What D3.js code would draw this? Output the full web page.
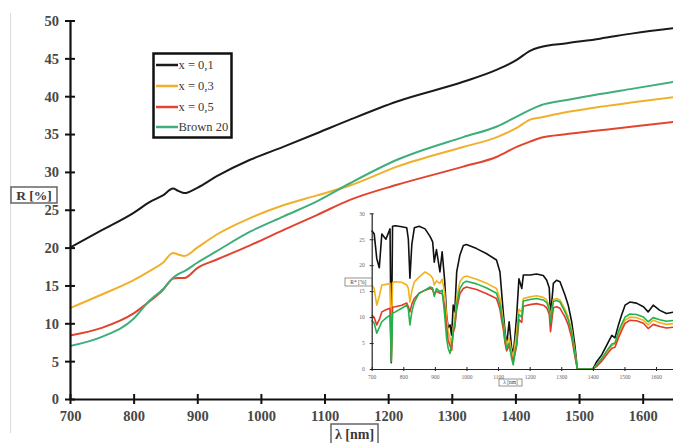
<!DOCTYPE html>
<html>
<head>
<meta charset="utf-8">
<script src="https://cdn.jsdelivr.net/npm/d3@7"></script>
<style>
  body { margin: 0; background: #fff; }
  text { font-family: "Liberation Serif", "DejaVu Serif", serif; }
</style>
</head>
<body>
<div id="chart"></div>
<script>
// main chart: wavelengths (nm) and reflectance R [%] per sample
var mainNm = [700,750,800,825,846,862,870,880,900,930,983,1035,1088,1140,1214,1318,1371,1402,1423,1440,1481,1533,1585,1650];
var mainX01 = [20.0,22.3,24.6,26.0,26.9,27.8,27.5,27.2,27.9,29.4,31.6,33.3,35.1,36.9,39.3,41.9,43.5,44.8,46.0,46.5,47.0,47.6,48.3,49.0];
var mainX03 = [12.0,13.8,15.7,16.9,18.0,19.3,19.1,18.9,20.0,21.7,23.9,25.6,26.9,28.2,30.7,33.3,34.6,35.8,36.9,37.2,37.9,38.6,39.2,39.9];
var mainX05 = [8.4,9.4,11.3,12.9,14.4,15.9,16.0,16.0,17.3,18.4,20.3,22.3,24.3,26.3,28.3,30.7,32.0,33.3,34.0,34.5,35.0,35.5,36.0,36.6];
var mainBrown = [7.0,8.2,10.6,13.0,14.5,16.0,16.5,16.9,18.0,19.5,22.1,24.1,26.1,28.5,31.6,34.6,36.0,37.3,38.2,38.8,39.5,40.3,41.0,41.9];

// inset chart: R* [%]
var insetNm = [700,708,716,724,732,745,758,762,766,775,795,811,816,821,827,835,850,869,885,893,898,905,916,923,931,937,942,948,953,958,963,969,979,990,1000,1032,1064,1095,1106,1111,1117,1122,1127,1135,1143,1148,1153,1159,1166,1175,1180,1201,1222,1243,1254,1262,1266,1275,1285,1296,1312,1322,1333,1343,1351,1400,1412,1428,1444,1460,1470,1481,1491,1502,1517,1538,1560,1575,1591,1612,1633,1660];
var insetX01 = [26.7,26.0,21.3,19.5,26.0,25.0,27.0,1.2,27.5,27.6,27.4,27.2,25.0,17.5,24.0,27.2,27.5,27.0,25.5,24.5,20.6,23.0,18.7,22.6,17.0,10.4,8.0,8.5,6.5,12.3,11.0,18.7,21.9,23.8,24.0,23.2,22.2,21.0,18.7,14.9,10.5,7.2,4.6,9.1,4.0,3.0,5.9,10.4,17.4,15.5,18.1,18.1,18.3,18.0,17.1,15.6,10.0,16.5,17.1,16.8,14.2,12.3,9.1,4.6,0,0,1.4,2.7,4.6,6.5,6.0,8.5,10.4,12.3,12.9,12.7,12.0,11.0,12.3,11.3,10.7,11.0];
var insetX03 = [16.2,15.5,12.3,14.0,16.2,16.3,16.5,4.0,16.6,16.8,16.7,16.2,15.5,12.9,15.0,16.8,17.7,18.7,18.1,17.5,16.2,17.0,16.5,17.3,14.6,10.0,7.2,6.0,4.0,8.0,9.5,13.6,16.8,17.7,17.9,17.3,16.5,15.5,13.6,11.5,9.1,6.5,4.6,6.0,3.3,2.5,4.5,7.2,11.5,11.0,13.6,13.9,14.1,13.8,13.3,12.0,9.7,13.4,13.6,13.3,11.5,10.0,7.5,3.5,0,0,0.8,1.8,3.2,4.5,4.8,6.6,8.0,9.4,10.0,9.9,9.4,8.5,9.4,8.9,8.6,8.8];
var insetX05 = [10.4,9.9,8.5,9.5,11.0,11.4,11.7,2.0,11.9,12.0,12.3,12.7,12.0,11.0,12.5,13.6,14.6,15.2,15.5,15.3,14.3,15.0,14.6,14.6,12.0,8.1,5.5,4.5,3.6,7.0,8.0,11.5,14.5,15.5,15.8,15.3,14.5,13.6,11.5,9.5,7.5,5.0,3.5,4.5,2.5,1.5,2.8,4.5,9.5,9.0,12.1,12.4,12.6,12.3,11.8,10.5,7.2,11.8,12.0,11.7,10.0,8.5,6.0,2.5,0,0,0.5,1.5,2.8,4.0,4.2,6.0,7.4,8.8,9.4,9.3,8.8,7.8,8.6,8.2,7.9,8.1];
var insetBrown = [9.4,8.8,6.9,8.0,9.1,9.8,10.4,1.4,10.8,11.0,11.7,12.3,11.5,8.5,11.0,12.9,14.6,15.2,15.8,15.6,14.0,15.5,14.9,15.2,10.4,5.9,4.0,3.0,4.6,7.5,8.5,12.5,15.5,16.6,16.9,16.4,15.6,14.6,12.5,10.5,8.5,5.5,4.0,5.0,2.0,0.8,3.0,5.0,10.5,10.0,13.1,13.4,13.6,13.3,12.8,11.5,9.0,13.0,13.2,12.9,11.0,9.5,7.0,3.0,0,0,0.8,2.0,3.5,4.8,5.0,7.2,8.6,10.0,10.6,10.5,10.0,9.1,9.9,9.5,9.2,9.4];

var seriesNames = ["x = 0,1", "x = 0,3", "x = 0,5", "Brown 20"];
var mainColors = ["#1a1a1a", "#f1b02c", "#e2452f", "#3fae7c"];
var insetColors = ["#111111", "#f2b21e", "#e23b27", "#22b24c"];
var xTicks = [700,800,900,1000,1100,1200,1300,1400,1500,1600];
var yTicks = [0,5,10,15,20,25,30,35,40,45,50];
var insetYTicks = [0,5,10,15,20,25,30];

var width = 673, height = 443;

var svg = d3.select("#chart").append("svg")
    .attr("width", width)
    .attr("height", height);

// faint page edge on the left
svg.append("line")
    .attr("x1", 10.5).attr("x2", 10.5)
    .attr("y1", 13).attr("y2", 433)
    .attr("stroke", "#dcdcdc")
    .attr("stroke-width", 1);

// scales for main chart
var xScale = d3.scaleLinear()
    .domain([700, 1650])
    .range([70, 674.5]);

var yScale = d3.scaleLinear()
    .domain([0, 50])
    .range([399, 20.5]);

var line = d3.line()
    .x(function(d) { return xScale(d.x); })
    .y(function(d) { return yScale(d.y); })
    .curve(d3.curveMonotoneX);

var mainSeries = [mainX01, mainX03, mainX05, mainBrown];

mainSeries.forEach(function(vals, i) {
    var pts = mainNm.map(function(nm, j) { return {x: nm, y: vals[j]}; });
    svg.append("path")
        .datum(pts)
        .attr("d", line)
        .attr("fill", "none")
        .attr("stroke", mainColors[i])
        .attr("stroke-width", 2);
});

// inset background + chart
drawInset();

// main axes
var xAxis = d3.axisBottom(xScale)
    .tickValues(xTicks)
    .tickFormat(d3.format("d"))
    .tickSizeInner(5)
    .tickSizeOuter(0)
    .tickPadding(10);

var yAxis = d3.axisLeft(yScale)
    .tickValues(yTicks)
    .tickFormat(d3.format("d"))
    .tickSizeInner(5)
    .tickSizeOuter(0)
    .tickPadding(10);

var gx = svg.append("g")
    .attr("transform", "translate(0," + 399 + ")")
    .call(xAxis);

var gy = svg.append("g")
    .attr("transform", "translate(70,0)")
    .call(yAxis);

[gx, gy].forEach(function(g) {
    g.select(".domain").attr("stroke", "#111").attr("stroke-width", 2.2);
    g.selectAll(".tick line").attr("stroke", "#111").attr("stroke-width", 2);
    g.selectAll(".tick text")
        .attr("font-family", "Liberation Serif, serif")
        .attr("font-weight", "bold")
        .attr("font-size", 14.5)
        .attr("fill", "#484848");
});
// ticks cross the axis line
gx.selectAll(".tick line").attr("y1", -5).attr("y2", 5);
gy.selectAll(".tick line").attr("x1", -5).attr("x2", 5);
gy.selectAll(".tick text").attr("x", -11).attr("dy", "0.34em");
gx.selectAll(".tick text").attr("y", 12);

// axis label boxes
drawLabelBox(svg, 11, 187, 46, 16, "R [%]", 13.5, true);
drawLabelBox(svg, 331, 424, 47, 20, "\u03bb [nm]", 14, true);

drawLegend();

function drawLabelBox(g, x, y, w, h, txt, size, bold) {
    g.append("rect")
        .attr("x", x).attr("y", y)
        .attr("width", w).attr("height", h)
        .attr("fill", "#fff")
        .attr("stroke", "#666")
        .attr("stroke-width", size > 10 ? 1.5 : 0.7);
    g.append("text")
        .attr("x", x + w / 2)
        .attr("y", y + h / 2)
        .attr("dy", "0.35em")
        .attr("text-anchor", "middle")
        .attr("font-size", size)
        .attr("font-weight", bold ? "bold" : "normal")
        .attr("fill", "#3a3a3a")
        .text(txt);
}

function drawLegend() {
    var legendGroup = svg.append("g")
        .attr("class", "legendGroup");

    legendGroup.append("rect")
        .attr("x", 153.5).attr("y", 53.5)
        .attr("width", 78).attr("height", 84)
        .attr("fill", "#fff")
        .attr("stroke", "#111")
        .attr("stroke-width", 2.5);

    var rowY = [65, 86, 107, 127];

    seriesNames.forEach(function(name, i) {
        legendGroup.append("line")
            .attr("x1", 156).attr("x2", 178)
            .attr("y1", rowY[i]).attr("y2", rowY[i])
            .attr("stroke", mainColors[i])
            .attr("stroke-width", 2.5);
        legendGroup.append("text")
            .attr("x", 178.5)
            .attr("y", rowY[i])
            .attr("dy", "0.35em")
            .attr("font-size", 12.5)
            .attr("fill", "#3a3a3a")
            .text(name);
    });
}

function drawInset() {
    var inset = svg.append("g").attr("class", "inset");

    inset.append("rect")
        .attr("x", 343).attr("y", 204)
        .attr("width", 330).attr("height", 186)
        .attr("fill", "#fff");

    var ix = d3.scaleLinear()
        .domain([700, 1660])
        .range([371.7, 675]);

    var iy = d3.scaleLinear()
        .domain([0, 30])
        .range([369, 213.3]);

    var iline = d3.line()
        .x(function(d) { return ix(d.x); })
        .y(function(d) { return iy(d.y); });

    var insetSeries = [insetX01, insetX03, insetX05, insetBrown];

    insetSeries.forEach(function(vals, i) {
        var pts = insetNm.map(function(nm, j) { return {x: nm, y: vals[j]}; });
        inset.append("path")
            .datum(pts)
            .attr("d", iline)
            .attr("fill", "none")
            .attr("stroke", insetColors[i])
            .attr("stroke-width", 1.6)
            .attr("stroke-linejoin", "round");
    });

    var ixAxis = d3.axisBottom(ix)
        .tickValues(xTicks)
        .tickFormat(d3.format("d"))
        .tickSizeInner(2)
        .tickSizeOuter(0)
        .tickPadding(4);

    var iyAxis = d3.axisLeft(iy)
        .tickValues(insetYTicks)
        .tickSizeInner(2)
        .tickSizeOuter(0)
        .tickPadding(5);

    var igx = inset.append("g")
        .attr("transform", "translate(0,369)")
        .call(ixAxis);

    var igy = inset.append("g")
        .attr("transform", "translate(371.7,0)")
        .call(iyAxis);

    [igx, igy].forEach(function(g) {
        g.select(".domain").attr("stroke", "#222").attr("stroke-width", 1.2);
        g.selectAll(".tick line").attr("stroke", "#222").attr("stroke-width", 1);
        g.selectAll(".tick text")
            .attr("font-family", "Liberation Serif, serif")
            .attr("font-size", 5.5)
            .attr("fill", "#666");
    });
    igx.selectAll(".tick line").attr("y1", -2).attr("y2", 2);
    igy.selectAll(".tick line").attr("x1", -2).attr("x2", 2);

    drawLabelBox(inset, 345, 278, 26.7, 8, "R* [%]", 5.5, false);
    drawLabelBox(inset, 499, 379, 23, 7, "\u03bb [nm]", 5.5, false);
}
</script>
</body>
</html>
